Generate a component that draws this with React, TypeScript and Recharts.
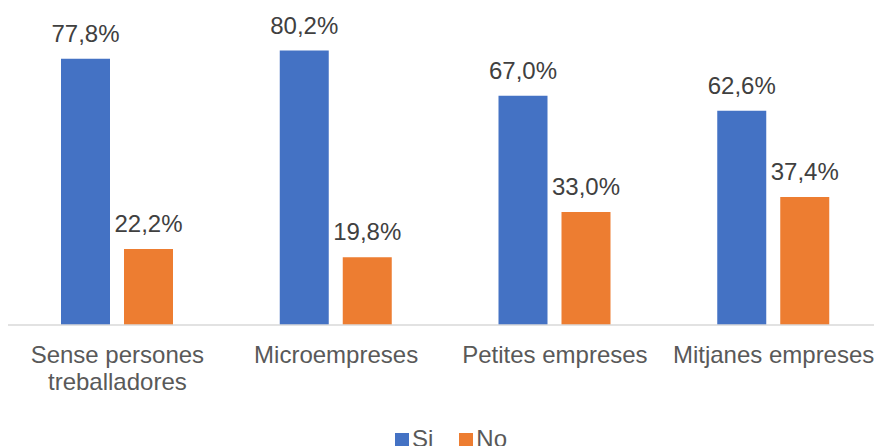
import { BarChart, Bar, XAxis, YAxis, Legend, LabelList } from "recharts";

const categories = ["Sense persones treballadores", "Microempreses", "Petites empreses", "Mitjanes empreses"];
const siValues = [77.8, 80.2, 67.0, 62.6];
const noValues = [22.2, 19.8, 33.0, 37.4];
const seriesNames = ["Si", "No"];
const seriesColors = ["#4472C4", "#ED7D31"];

const data = categories.map((name, i) => ({ name, si: siValues[i], no: noValues[i] }));

const FONT = "'Liberation Sans', Arial, sans-serif";

function fmt(v: any) {
  return `${Number(v).toFixed(1).replace(".", ",")}%`;
}

// greedy word wrap, roughly by character count
function wrap(s: string, max: number) {
  const lines: string[] = [];
  let cur = "";
  for (const w of s.split(" ")) {
    const next = cur ? cur + " " + w : w;
    if (next.length > max && cur) {
      lines.push(cur);
      cur = w;
    } else cur = next;
  }
  if (cur) lines.push(cur);
  return lines;
}

function CatTick(props: any) {
  const { x, y, payload } = props;
  const lines = wrap(String(payload.value), 18);
  return (
    <text x={x} y={y} textAnchor="middle" fill="#595959" fontSize={24} fontFamily={FONT}>
      {lines.map((l, i) => (
        <tspan key={i} x={x} dy={i === 0 ? 30 : 27}>
          {l}
        </tspan>
      ))}
    </text>
  );
}

function LegendContent() {
  return (
    <div
      style={{
        display: "flex",
        justifyContent: "center",
        paddingLeft: 28,
        fontFamily: FONT,
        fontSize: 24,
        lineHeight: "28px",
        color: "#595959",
      }}
    >
      {seriesNames.map((n, i) => (
        <div key={n} style={{ display: "flex", alignItems: "flex-start", marginRight: i === 0 ? 26 : 0 }}>
          <span style={{ display: "inline-block", width: 14, height: 14, marginTop: 8, marginRight: 3, background: seriesColors[i] }} />
          <span>{n}</span>
        </div>
      ))}
    </div>
  );
}

export default function App() {
  return (
    <div style={{ position: "absolute", left: 0, top: 0, width: 874, height: 446, overflow: "hidden", background: "#fff" }}>
      <BarChart
        width={883}
        height={446}
        data={data}
        margin={{ top: 17, right: 0, left: 8, bottom: 0 }}
        barCategoryGap={53}
        barGap={14}
      >
        <XAxis
          dataKey="name"
          height={121}
          tickLine={false}
          axisLine={{ stroke: "#D9D9D9", strokeWidth: 1.5 }}
          tick={<CatTick />}
          interval={0}
        />
        <YAxis hide domain={[0, 90]} />
        <Legend
          content={<LegendContent />}
          wrapperStyle={{ position: "absolute", top: 425, left: 0, width: 874, height: 0, overflow: "visible" }}
        />
        <Bar dataKey="si" name="Si" fill={seriesColors[0]} barSize={49} isAnimationActive={false}>
          <LabelList dataKey="si" position="top" offset={17} formatter={fmt} fill="#404040" fontSize={24} fontFamily={FONT} />
        </Bar>
        <Bar dataKey="no" name="No" fill={seriesColors[1]} barSize={49} isAnimationActive={false}>
          <LabelList dataKey="no" position="top" offset={17} formatter={fmt} fill="#404040" fontSize={24} fontFamily={FONT} />
        </Bar>
      </BarChart>
    </div>
  );
}
